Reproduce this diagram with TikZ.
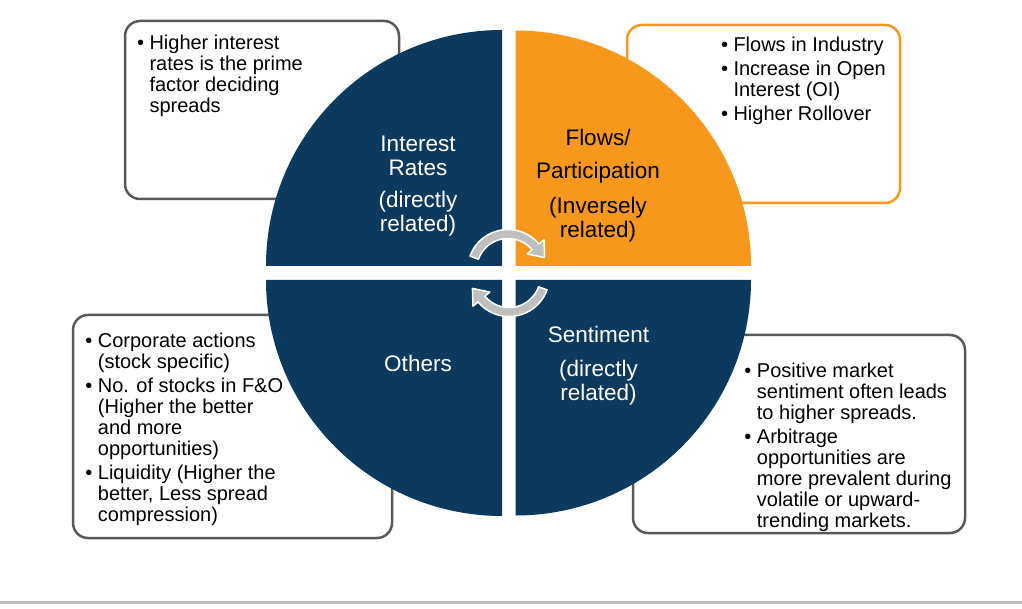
\documentclass[tikz,border=0pt]{standalone}
\usepackage{fontspec}
\setmainfont{Liberation Sans}
\usetikzlibrary{calc}
\definecolor{navy}{HTML}{0C3A5E}
\definecolor{orng}{HTML}{F7981D}
\definecolor{boxgray}{HTML}{595959}
\definecolor{arrgray}{HTML}{BFBFBF}
\definecolor{rulegray}{HTML}{C0C0C0}
\newcommand{\cyclearrow}[3]{%
  \filldraw[cycarrow] ($(#1)+(#2:40.5)$) arc[start angle=#2, end angle=#3, radius=40.5]
    -- ($(#1)+(#3:47)$) -- ($(#1)+(#3:36)+(#3+90:14)$) -- ($(#1)+(#3:25)$) -- ($(#1)+(#3:31.5)$)
    arc[start angle=#3, end angle=#2, radius=31.5] -- cycle;}
\tikzset{
  qlabel/.style={inner sep=0pt, anchor=north, font=\fontsize{22.5}{24}\selectfont},
  btext/.style={inner sep=0pt, anchor=north west, font=\fontsize{20}{21}\selectfont},
  gbox/.style={draw=boxgray, line width=2.5pt, rounded corners=15pt, inner sep=0pt},
  obox/.style={gbox, draw=orng},
  cycarrow/.style={fill=arrgray, draw=white, line width=1.5pt, line join=round}
}
\begin{document}
\begin{tikzpicture}[x=1pt,y=-1pt]
\useasboundingbox (0,0) rectangle (1022,609);
% boxes
\node[gbox, minimum width=274pt, minimum height=178pt] (b1) at (262,110) {};
\node[obox, minimum width=273pt, minimum height=178pt] (b2) at (763.5,114) {};
\node[gbox, minimum width=319pt, minimum height=223pt] (b3) at (232.5,426.5) {};
\node[gbox, minimum width=332pt, minimum height=198pt] (b4) at (799,434) {};
% quadrants
\fill[navy] (502,266) -- (266,266) arc[start angle=180,end angle=270,radius=236] -- cycle;
\fill[orng] (515.5,266) -- (515.5,30.5) arc[start angle=270,end angle=360,radius=235.5] -- cycle;
\fill[navy] (515.5,280) -- (751,280) arc[start angle=0,end angle=90,radius=235.5] -- cycle;
\fill[navy] (502,280) -- (502,516) arc[start angle=90,end angle=180,radius=236] -- cycle;
% cycle arrows
\coordinate (ca) at (508,270);
\coordinate (cb) at (509,276);
\cyclearrow{ca}{200}{320}
\cyclearrow{cb}{20}{140}
% quadrant labels
\node[qlabel, text=white] (q1) at (418,134.2) {\begin{tabular}{@{}c@{}}Interest\\Rates\\[8pt](directly\\related)\end{tabular}};
\node[qlabel, text=black] (q2) at (598,128.2) {\begin{tabular}{@{}c@{}}Flows/\\[9pt]Participation\\[11pt](Inversely\\related)\end{tabular}};
\node[qlabel, text=white] (q3) at (418,354.2) {\begin{tabular}{@{}c@{}}Others\end{tabular}};
\node[qlabel, text=white] (q4) at (598.5,325.2) {\begin{tabular}{@{}c@{}}Sentiment\\[10pt](directly\\related)\end{tabular}};
% box texts
\node[btext] (t1) at (136.8,34.3) {\begin{tabular}{@{}l@{\hspace{5.5pt}}l@{}}\textbullet & Higher interest\\ & rates is the prime\\ & factor deciding\\ & spreads\end{tabular}};
\node[btext] (t2) at (720.8,37.0) {\begin{tabular}{@{}l@{\hspace{5.5pt}}l@{}}\textbullet & Flows in Industry\\[3pt]\textbullet & Increase in Open\\ & Interest (OI)\\[3pt]\textbullet & Higher Rollover\end{tabular}};
\node[btext] (t3) at (85.2,332.6) {\begin{tabular}{@{}l@{\hspace{5.5pt}}l@{}}\textbullet & Corporate actions\\ & (stock specific)\\[3pt]\textbullet & No. of stocks in F\&O\\ & (Higher the better\\ & and more\\ & opportunities)\\[3pt]\textbullet & Liquidity (Higher the\\ & better, Less spread\\ & compression)\end{tabular}};
\node[btext] (t4) at (744.2,363.0) {\begin{tabular}{@{}l@{\hspace{5.5pt}}l@{}}\textbullet & Positive market\\ & sentiment often leads\\ & to higher spreads.\\[3pt]\textbullet & Arbitrage\\ & opportunities are\\ & more prevalent during\\ & volatile or upward-\\ & trending markets.\end{tabular}};
% bottom rule
\fill[rulegray] (0,600.5) rectangle (1022,604);
\end{tikzpicture}
\end{document}
